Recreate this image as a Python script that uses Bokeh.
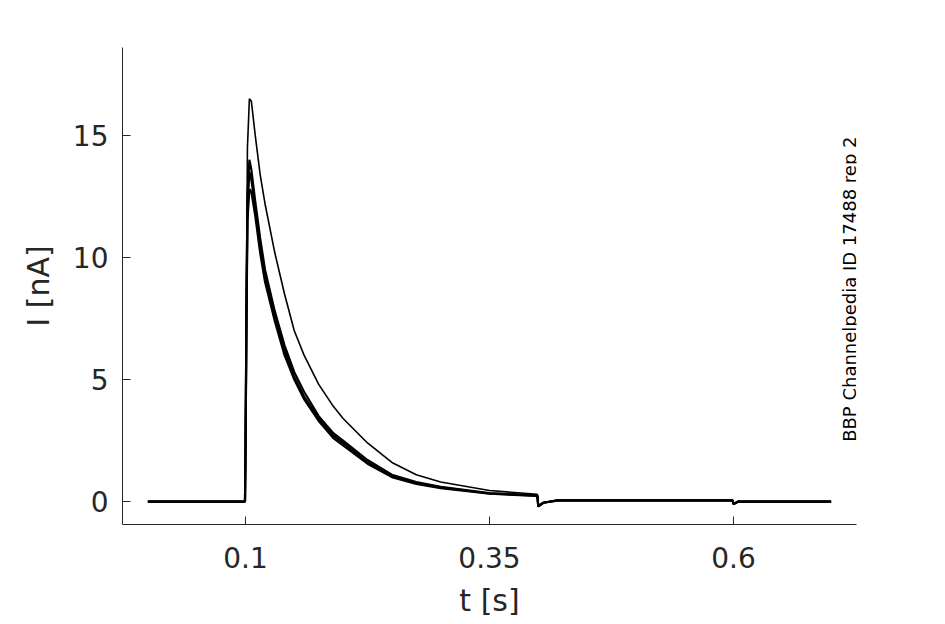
from bokeh.plotting import figure
from bokeh.embed import file_html
from bokeh.resources import INLINE
from bokeh.models import FixedTicker, Label

t = [0.0, 0.05, 0.0995, 0.1, 0.101, 0.102, 0.104, 0.106, 0.11, 0.115, 0.12, 0.13, 0.14, 0.15, 0.16, 0.175, 0.19, 0.2, 0.225, 0.25, 0.275, 0.3, 0.35, 0.399, 0.4, 0.405, 0.42, 0.5, 0.599, 0.6, 0.605, 0.7]
trace_a = [0.0, 0.0, 0.0, 2.0, 9.0, 14.5, 16.5, 16.4, 15.0, 13.4, 12.2, 10.2, 8.5, 7.0, 6.0, 4.8, 3.9, 3.4, 2.4, 1.6, 1.1, 0.8, 0.45, 0.3, -0.15, -0.05, 0.05, 0.05, 0.05, -0.1, 0.0, 0.0]
trace_b = [0.0, 0.0, 0.0, 2.0, 8.0, 12.5, 14.0, 13.6, 12.3, 10.8, 9.5, 7.8, 6.4, 5.3, 4.5, 3.5, 2.8, 2.5, 1.7, 1.1, 0.8, 0.6, 0.35, 0.25, -0.2, -0.05, 0.05, 0.05, 0.05, -0.1, 0.0, 0.0]
trace_c = [0.0, 0.0, 0.0, 2.0, 7.5, 12.0, 13.5, 13.2, 12.0, 10.5, 9.2, 7.6, 6.2, 5.1, 4.3, 3.4, 2.7, 2.4, 1.6, 1.05, 0.75, 0.58, 0.33, 0.24, -0.2, -0.05, 0.05, 0.05, 0.05, -0.1, 0.0, 0.0]
trace_d = [0.0, 0.0, 0.0, 2.0, 7.0, 11.5, 12.8, 12.7, 11.7, 10.2, 9.0, 7.4, 6.0, 5.0, 4.2, 3.3, 2.6, 2.3, 1.55, 1.0, 0.72, 0.55, 0.32, 0.23, -0.2, -0.05, 0.05, 0.05, 0.05, -0.1, 0.0, 0.0]
x_ticks = [0.1, 0.35, 0.6]
y_ticks = [0, 5, 10, 15]

p = figure(width=940, height=620, output_backend="svg", toolbar_location=None,
           x_range=(-0.026, 0.726), y_range=(-0.94, 18.6),
           min_border_left=122, min_border_right=84, min_border_top=47, min_border_bottom=95)
p.outline_line_color = None
p.grid.visible = False
for tr, w in [(trace_b, 2.2), (trace_c, 2.2), (trace_d, 2.2), (trace_a, 1.6)]:
    p.line(t, tr, line_color="black", line_width=w)

for ax, ticks, lbl in [(p.xaxis, x_ticks, "t [s]"), (p.yaxis, y_ticks, "I [nA]")]:
    ax.ticker = FixedTicker(ticks=ticks)
    ax.axis_label = lbl
    ax.major_label_text_font = "DejaVu Sans"
    ax.major_label_text_font_size = "28px"
    ax.major_label_text_color = "#262626"
    ax.axis_label_text_font = "DejaVu Sans"
    ax.axis_label_text_font_size = "30px"
    ax.axis_label_text_font_style = "normal"
    ax.axis_label_text_color = "#262626"
    ax.axis_line_color = "#262626"
    ax.major_tick_line_color = "#262626"
    ax.major_tick_in = 8
    ax.major_tick_out = 0
    ax.minor_tick_line_color = None
p.xaxis.major_label_standoff = 22
p.xaxis.axis_label_standoff = 12
p.yaxis.major_label_standoff = 14
p.yaxis.axis_label_standoff = 14

p.add_layout(Label(x=0.011, y=18.55, text="Kv1.4  Mouse  CHO  25 °C", text_font="DejaVu Sans",
                   text_font_size="19px", text_font_style="bold", text_color="black",
                   text_baseline="bottom"))
p.add_layout(Label(x=0.71, y=18.55, text="Deactivation", text_font="DejaVu Sans", text_align="right",
                   text_font_size="19px", text_color="black", text_baseline="bottom"))
p.add_layout(Label(x=0.73, y=8.7, text="BBP Channelpedia ID 17488 rep 2", text_font="DejaVu Sans",
                   text_font_size="18px", text_color="black", angle=1.5708,
                   text_align="center", text_baseline="bottom"))

open("out.html", "w").write(file_html(p, INLINE))
